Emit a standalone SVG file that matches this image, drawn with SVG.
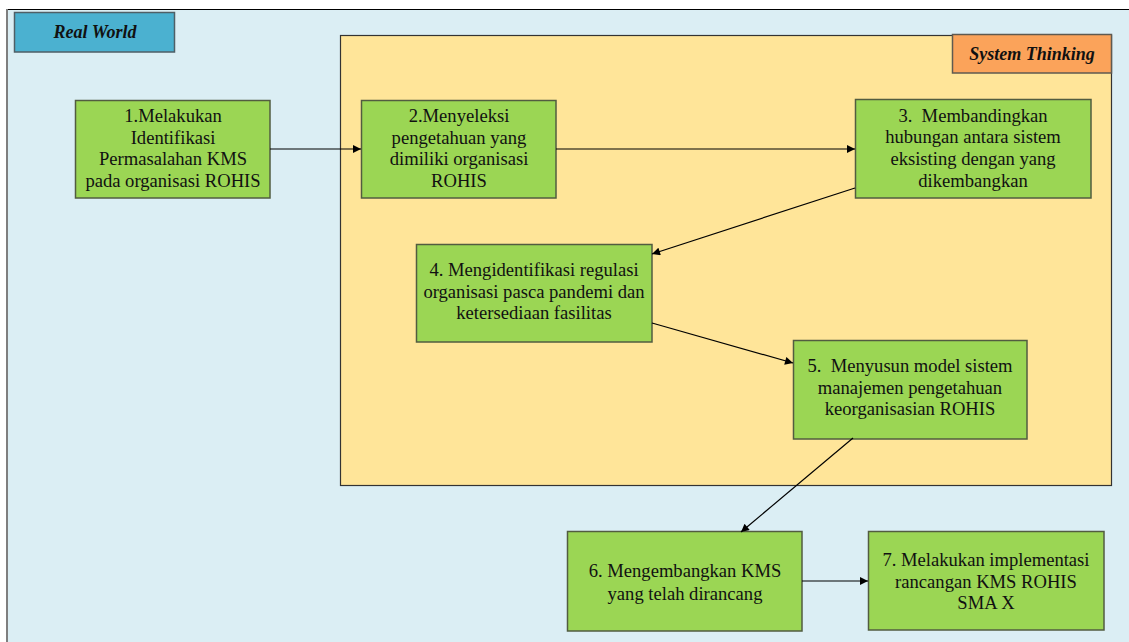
<svg xmlns="http://www.w3.org/2000/svg" width="1129" height="642" viewBox="0 0 1129 642">
<defs>
<style>
.node rect{fill:#9BD654;stroke:#525c40;stroke-width:1.5}
.node text{font-family:"Liberation Serif","Times New Roman",serif;font-size:18.6px;fill:#111;text-anchor:middle;white-space:pre}
.lbl{font-family:"Liberation Serif","Times New Roman",serif;font-size:18px;font-weight:bold;font-style:italic;fill:#111;text-anchor:middle}
.conn line{stroke:#000;stroke-width:1.2;marker-end:url(#ah)}
</style>
<marker id="ah" viewBox="0 0 10 10" refX="10" refY="5" markerWidth="10" markerHeight="8" markerUnits="userSpaceOnUse" orient="auto">
<path d="M0,0 L10,5 L0,10 z" fill="#000"/>
</marker>
</defs>
<rect x="0" y="0" width="1129" height="642" fill="#ffffff"/>
<rect x="7" y="9" width="1122" height="633" fill="#DBEEF4"/>
<line x1="7" y1="9.5" x2="1129" y2="9.5" stroke="#000" stroke-width="1"/>
<line x1="7" y1="9" x2="7" y2="642" stroke="#7f7f7f" stroke-width="2"/>
<g id="real-world">
<rect x="14.5" y="12.5" width="160" height="39.5" fill="#4BB1D0" stroke="#4f5f66" stroke-width="1.5"/>
<text class="lbl" x="95" y="38">Real World</text>
</g>
<g id="system-thinking">
<rect x="340.5" y="35.5" width="771" height="450" fill="#FFE599" stroke="#333" stroke-width="1.2"/>
<rect x="952.5" y="34.5" width="159" height="38.5" fill="#FBA35A" stroke="#5f5a50" stroke-width="1.5"/>
<text class="lbl" x="1032" y="60">System Thinking</text>
</g>
<g id="n1" class="node">
<rect x="75.5" y="100.5" width="194.5" height="97.5"/>
<text x="173" y="122">1.Melakukan</text>
<text x="173" y="143.7">Identifikasi</text>
<text x="173" y="165.4">Permasalahan KMS</text>
<text x="173" y="187.1">pada organisasi ROHIS</text>
</g>
<g id="n2" class="node">
<rect x="361.5" y="100.5" width="194.5" height="97.5"/>
<text x="459" y="122">2.Menyeleksi</text>
<text x="459" y="143.7">pengetahuan yang</text>
<text x="459" y="165.4">dimiliki organisasi</text>
<text x="459" y="187.1">ROHIS</text>
</g>
<g id="n3" class="node">
<rect x="855.5" y="99.5" width="235.5" height="98.5"/>
<text x="973" y="121.5">3.  Membandingkan</text>
<text x="973" y="143.2">hubungan antara sistem</text>
<text x="973" y="164.9">eksisting dengan yang</text>
<text x="973" y="186.6">dikembangkan</text>
</g>
<g id="n4" class="node">
<rect x="416.5" y="244.5" width="235.5" height="97.5"/>
<text x="534" y="276">4. Mengidentifikasi regulasi</text>
<text x="534" y="297.7">organisasi pasca pandemi dan</text>
<text x="534" y="319.4">ketersediaan fasilitas</text>
</g>
<g id="n5" class="node">
<rect x="793.5" y="340.5" width="233.5" height="98.5"/>
<text x="910" y="372">5.  Menyusun model sistem</text>
<text x="910" y="393.7">manajemen pengetahuan</text>
<text x="910" y="415.4">keorganisasian ROHIS</text>
</g>
<g id="n6" class="node">
<rect x="567.5" y="531.5" width="234.5" height="99.5"/>
<text x="685" y="577">6. Mengembangkan KMS</text>
<text x="685" y="600">yang telah dirancang</text>
</g>
<g id="n7" class="node">
<rect x="868.5" y="531.5" width="235.5" height="98.5"/>
<text x="986" y="566">7. Melakukan implementasi</text>
<text x="986" y="587.7">rancangan KMS ROHIS</text>
<text x="986" y="609.4">SMA X</text>
</g>
<g id="connectors" class="conn">
<line x1="270" y1="149" x2="361" y2="149"/>
<line x1="556" y1="149" x2="855" y2="149"/>
<line x1="855" y1="188" x2="652" y2="254"/>
<line x1="652" y1="323" x2="793" y2="363"/>
<line x1="853" y1="438" x2="741" y2="532"/>
<line x1="802" y1="581" x2="868" y2="581"/>
</g>
</svg>
